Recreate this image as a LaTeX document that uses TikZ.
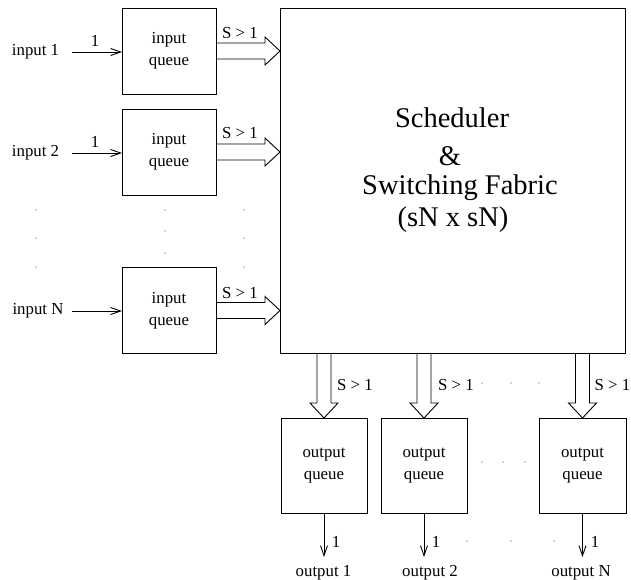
\documentclass[tikz,border=0pt]{standalone}
\usepackage{fontspec}
\setmainfont{Liberation Serif}
\usetikzlibrary{arrows.meta,calc}
\tikzset{
  queuebox/.style={draw, line width=0.9pt, inner sep=0pt, outer sep=0pt,
    align=center, font=\fontsize{16.8}{22}\selectfont},
  lbl/.style={inner sep=0pt, font=\fontsize{16.8}{20}\selectfont},
  bigtxt/.style={inner sep=0pt, font=\fontsize{28.5}{34}\selectfont},
  thin/.style={line width=0.9pt, -{Straight Barb[length=10pt,width=7pt,line width=0.9pt]}},
  fat/.style={line width=0.9pt, line join=miter},
  dotmark/.style={fill=black!75}
}
\begin{document}
\begin{tikzpicture}[x=1pt,y=-1pt]
\useasboundingbox (0,0) rectangle (631,579);

% input queues
\node[queuebox, minimum width=94pt, minimum height=86pt] (q1) at (169,51) {input\\queue};
\node[queuebox, minimum width=94pt, minimum height=86pt] (q2) at (169,152) {input\\queue};
\node[queuebox, minimum width=94pt, minimum height=86pt] (qN) at (169,310.5) {input\\queue};

% scheduler / switching fabric
\node[draw, line width=0.9pt, inner sep=0pt, outer sep=0pt,
      minimum width=345pt, minimum height=345pt] (big) at (452.5,180.5) {};
\node[bigtxt] (t1) at (452,118) {Scheduler};
\node[bigtxt] (t2) at (450,156) {\&};
\node[bigtxt] (t3) at (460,188) {Switching Fabric};
\node[bigtxt] (t4) at (453,220) {(sN x sN)};

% output queues
\node[queuebox, minimum width=86pt, minimum height=95pt] (o1) at (324,465.5) {output\\queue};
\node[queuebox, minimum width=86pt, minimum height=95pt] (o2) at (424,465.5) {output\\queue};
\node[queuebox, minimum width=87pt, minimum height=95pt] (oN) at (582.5,465.5) {output\\queue};

% input lines
\node[lbl] (in1) at (35.5,52) {input 1};
\node[lbl] (in2) at (35.5,153) {input 2};
\node[lbl] (inN) at (38,311) {input N};
\coordinate (s1) at (72,52);
\coordinate (s2) at (72,153);
\coordinate (sN) at (72,311);
\draw[thin] (s1) -- (s1 -| q1.west);
\draw[thin] (s2) -- (s2 -| q2.west);
\draw[thin] (sN) -- (sN -| qN.west);
\node[lbl] (r1) at (95,41) {1};
\node[lbl] (r2) at (95,142) {1};

% wide links into the fabric
\foreach \q in {q1,q2,qN}{
  \draw[fat] ($(\q.east)+(0,-8)$) -- ($(\q.east -| big.west)+(-15,-8)$) -- ++(0,-6)
    -- (\q.east -| big.west) -- ++(-15,14) -- ++(0,-6) -- ($(\q.east)+(0,8)$);
}
\node[lbl] (w1) at (240,33) {S > 1};
\node[lbl] (w2) at (240,133) {S > 1};
\node[lbl] (wN) at (240,293) {S > 1};

% wide links out of the fabric
\foreach \o in {o1,o2,oN}{
  \draw[fat] ($(big.south -| \o.north)+(-7,0)$) -- ($(\o.north)+(-7,-15)$) -- ++(-7,0)
    -- (\o.north) -- ++(14,-15) -- ++(-7,0) -- ($(big.south -| \o.north)+(7,0)$);
}
\node[lbl] (v1) at (355,385) {S > 1};
\node[lbl] (v2) at (456,385) {S > 1};
\node[lbl] (vN) at (612.5,385) {S > 1};

% output lines
\coordinate (e1) at (324,557);
\coordinate (e2) at (424,557);
\coordinate (eN) at (582.5,557);
\draw[thin] (o1.south) -- (e1);
\draw[thin] (o2.south) -- (e2);
\draw[thin] (oN.south) -- (eN);
\node[lbl] (u1) at (336,542) {1};
\node[lbl] (u2) at (436,542) {1};
\node[lbl] (uN) at (595,542) {1};
\node[lbl] (out1) at (323.5,573) {output 1};
\node[lbl] (out2) at (430,573) {output 2};
\node[lbl] (outN) at (581,573) {output N};

% ellipsis dots
\foreach \p in {(36,210),(36,238),(36,267),(165,210),(165,231),(165,253),
                (244,210),(244,238),(244,267),(482,383),(511,383),(539,383),
                (482,462),(503,462),(525,462),(467,541),(511,541),(554,541)}{
  \fill[dotmark] \p circle (0.7pt);
}
\end{tikzpicture}
\end{document}
